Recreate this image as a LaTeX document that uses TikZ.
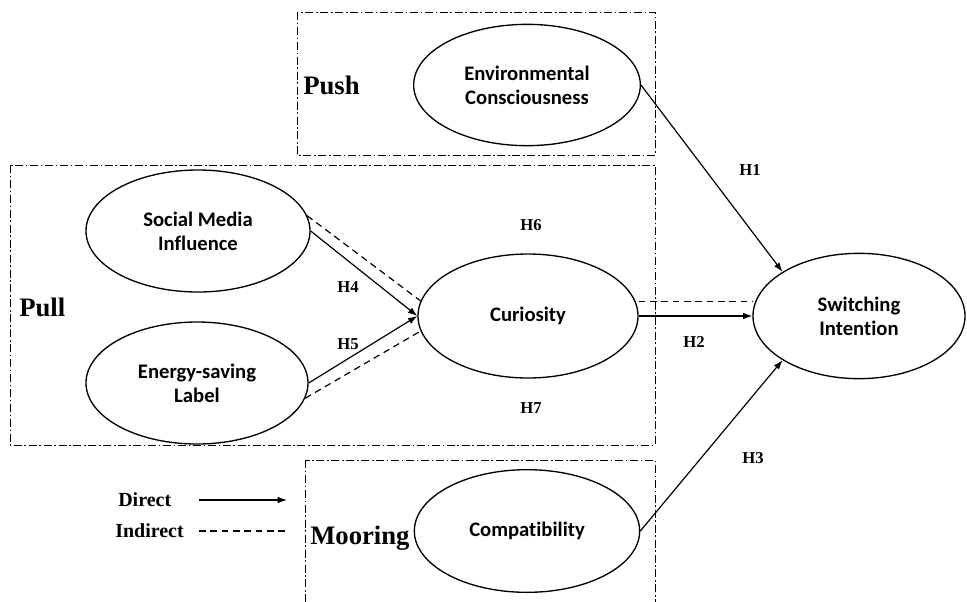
\documentclass[tikz,border=0pt]{standalone}
\usepackage{fontspec}
\setmainfont{Liberation Serif}
\newfontfamily\carlito[Ligatures=NoCommon]{Carlito}
\usepackage{tikz}
\usetikzlibrary{shapes.geometric,arrows.meta}

\begin{document}
\begin{tikzpicture}[x=0.75pt, y=-0.75pt,
	construct/.style={draw, ellipse, line width=1pt, inner sep=0pt, align=center,
		font=\carlito\bfseries\fontsize{15.5}{18}\selectfont},
	group/.style={draw, line width=0.7pt, dash pattern=on 6pt off 2pt on 1.2pt off 2pt},
	direct/.style={-{Latex[length=7pt,width=5pt]}, line width=0.9pt},
	indirect/.style={line width=0.9pt, dash pattern=on 5pt off 3.5pt},
	hyp/.style={font=\bfseries\fontsize{12.5}{14}\selectfont},
	factor/.style={anchor=base west, inner sep=0pt, font=\bfseries\fontsize{20}{24}\selectfont},
	legend/.style={anchor=west, inner sep=0pt, font=\bfseries\fontsize{15}{18}\selectfont}]
\useasboundingbox (0,0) rectangle (967,601);
\draw[group] (297,12) rectangle (655,155);
\draw[group] (10,165) rectangle (655,445);
\draw[group] (305,460) rectangle (655,620);

\node[factor] (push) at (303,94) {Push};
\node[factor] (pull) at (19,316) {Pull};
\node[factor] (mooring) at (310,544) {Mooring};

\node[construct, minimum width=170pt, minimum height=91pt] (env) at (527,85) {Environmental\\Consciousness};
\node[construct, minimum width=168pt, minimum height=91.5pt] (smi) at (198,231) {Social Media\\Influence};
\node[construct, minimum width=166.5pt, minimum height=91.5pt] (esl) at (197,383) {Energy-saving\\Label};
\node[construct, minimum width=165pt, minimum height=93pt] (cur) at (528,316) {Curiosity};
\node[construct, minimum width=159pt, minimum height=94pt] (si) at (859,316) {Switching\\Intention};
\node[construct, minimum width=169pt, minimum height=92pt] (comp) at (527,531) {Compatibility};

\draw[direct] (env.east) -- (si.150);
\draw[direct] (cur.east) -- (si.west);
\draw[direct] (comp.east) -- (si.210);
\draw[direct] (smi.east) -- (cur.west);
\draw[direct] (esl.east) -- (cur.west);
\draw[indirect] (smi.8) -- (cur.172);
\draw[indirect] (esl.-8) -- (cur.188);
\draw[indirect] ([yshift=11pt]cur.east) -- ([yshift=11pt]si.west);

\node[hyp] (h1) at (750,170) {H1};
\node[hyp] (h2) at (694,342) {H2};
\node[hyp] (h3) at (753,458) {H3};
\node[hyp] (h4) at (348,287) {H4};
\node[hyp] (h5) at (348,344) {H5};
\node[hyp] (h6) at (531,225) {H6};
\node[hyp] (h7) at (531,408) {H7};

\node[legend] (dlab) at (118,500) {Direct};
\node[legend] (ilab) at (115,531) {Indirect};
\coordinate (dstart) at (199,500);
\coordinate (dend) at (287,500);
\coordinate (istart) at (199,531);
\coordinate (iend) at (286,531);
\draw[direct] (dstart) -- (dend);
\draw[indirect] (istart) -- (iend);
\end{tikzpicture}
\end{document}
